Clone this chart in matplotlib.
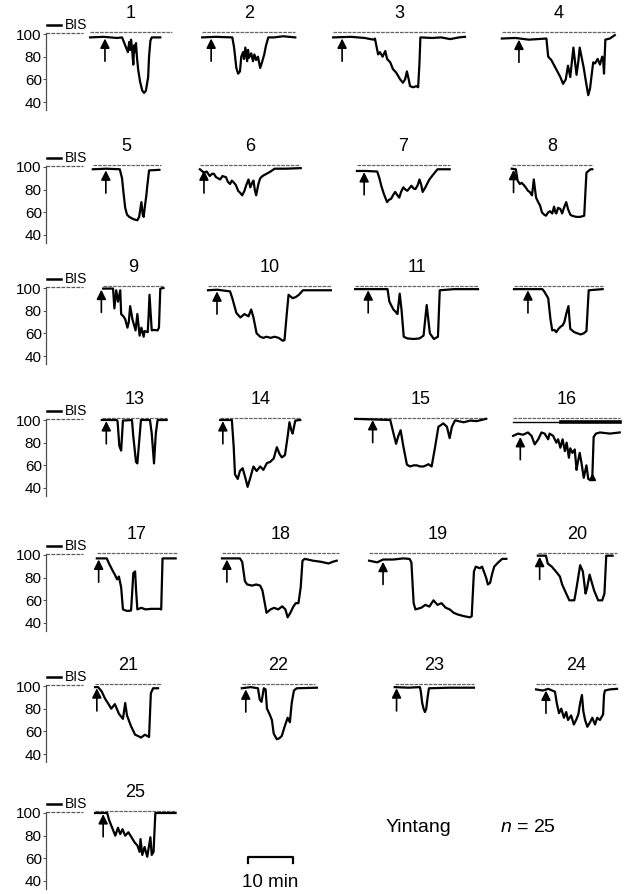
import matplotlib
matplotlib.use("Agg")
import matplotlib.pyplot as plt
import numpy as np

plt.rcParams['font.family'] = ['Liberation Sans', 'DejaVu Sans']
plt.rcParams['mathtext.fontset'] = 'custom'
plt.rcParams['mathtext.it'] = 'Liberation Sans:italic'
plt.rcParams['mathtext.rm'] = 'Liberation Sans'

# ---- data: BIS traces, (minutes from panel start, BIS) ----
trace_01 = [(0, 97), (3, 97.5), (6, 96.5), (7.1, 97), (7.6, 92), (8.0, 88), (8.4, 84), (8.7, 93), (8.9, 86),
            (9.1, 95), (9.3, 88), (9.6, 73), (9.8, 90), (10.0, 84), (10.2, 92), (10.4, 80), (10.7, 68),
            (11.1, 58), (11.6, 50), (12.0, 48), (12.4, 50), (12.9, 62), (13.1, 80), (13.4, 94), (13.7, 97),
            (15.6, 97)]
trace_02 = [(0, 97), (3, 97.5), (6.7, 97), (7.1, 88), (7.6, 70), (8.0, 65), (8.4, 67), (8.7, 80), (9.1, 84),
            (9.3, 78), (9.6, 88), (10.0, 76), (10.2, 86), (10.4, 79), (10.9, 83), (11.3, 76), (11.6, 82),
            (12.0, 77), (12.4, 80), (12.9, 70), (13.3, 75), (13.8, 82), (14.2, 90), (14.7, 97), (16, 97),
            (18, 98), (20.7, 97)]
trace_03 = [(0, 97), (4, 97.5), (7, 96.5), (9.0, 95), (9.3, 96), (9.6, 90), (10.0, 82), (10.4, 84), (11.0, 80),
            (11.6, 85), (12.0, 78), (12.7, 75), (13.3, 69), (14.0, 66), (14.9, 60), (15.5, 57), (16.0, 60),
            (16.4, 67), (16.8, 60), (17.1, 54), (17.8, 53), (18.5, 54), (18.9, 53), (19.2, 75), (19.4, 97),
            (22, 96.5), (24, 97), (26, 95.5), (28, 97), (29.3, 97.5)]
trace_04 = [(0, 96), (3, 96.5), (6, 95), (9.9, 96), (10.3, 80), (11.0, 77), (12.2, 68), (13.0, 62), (13.6, 56),
            (14.2, 60), (14.7, 72), (15.2, 62), (15.9, 88), (16.3, 74), (16.6, 64), (17.0, 76), (17.3, 88),
            (17.8, 78), (18.2, 70), (18.6, 60), (19.2, 46), (19.6, 52), (19.9, 62), (20.3, 75), (20.7, 74),
            (21.3, 78), (21.8, 73), (22.3, 80), (22.5, 78), (22.7, 65), (23.0, 95), (24.0, 96), (25.1, 99)]
trace_05 = [(0, 98), (3, 98.5), (6.0, 98), (6.5, 90), (6.8, 78), (7.2, 64), (7.6, 58), (8.1, 56), (9.0, 54),
            (9.9, 53), (10.3, 56), (10.8, 69), (11.1, 58), (11.3, 56), (11.6, 66), (11.9, 75), (12.1, 83),
            (12.5, 97), (14.8, 97.5)]
trace_06 = [(0, 98), (0.9, 95), (1.5, 96), (2.2, 92), (2.7, 94), (3.1, 94), (3.6, 91), (4.5, 89), (5.0, 92),
            (5.8, 91), (6.2, 87), (6.7, 85), (7.1, 88), (7.6, 86), (8.0, 84), (8.5, 79), (9.0, 77), (9.4, 75),
            (9.9, 79), (10.3, 84), (10.8, 89), (11.2, 82), (11.6, 86), (11.9, 88), (12.2, 80), (12.5, 75),
            (13.0, 85), (13.4, 90), (13.9, 92), (14.8, 94), (15.7, 96), (16.6, 98.5), (19, 98.5), (22.4, 99)]
trace_07 = [(0, 96.5), (2, 96.5), (4.5, 96), (5.0, 90), (5.4, 83.5), (6.0, 76), (6.7, 69), (7.1, 71), (7.6, 72),
            (8.0, 75), (8.5, 78), (9.0, 75), (9.4, 73), (9.8, 78), (10.3, 82), (10.8, 80), (11.2, 79),
            (11.6, 81), (12.1, 83.5), (12.6, 81), (13.0, 80.5), (13.5, 84), (13.9, 89), (14.3, 84), (14.6, 78),
            (15.2, 82), (15.7, 86), (16.1, 89), (17.0, 93.6), (17.9, 98), (20.6, 98)]
trace_08 = [(0, 98.5), (0.9, 98), (1.3, 88), (1.8, 85), (2.2, 86), (2.7, 84), (3.1, 82), (3.6, 79), (4.0, 78),
            (4.5, 75), (4.9, 89), (5.4, 73), (6.0, 68), (6.3, 66), (6.7, 60), (7.2, 58), (7.6, 57), (8.1, 60),
            (8.5, 61), (9.0, 59), (9.4, 65), (9.7, 60), (9.9, 59), (10.3, 64), (10.8, 63), (11.2, 59),
            (11.6, 64), (12.1, 69), (12.5, 63), (13.0, 58), (13.4, 57), (14.3, 56), (15.2, 56), (16.1, 57),
            (16.4, 80), (16.6, 95), (17.5, 98), (17.9, 98)]
trace_09 = [(0, 99.5), (2.2, 99.5), (2.5, 82), (2.9, 98), (3.3, 88), (3.8, 98), (4.0, 77), (4.5, 75), (4.9, 72.5),
            (5.4, 65), (5.7, 70), (6.0, 84), (6.5, 72.5), (7.2, 62.6), (7.6, 77), (8.1, 58), (8.5, 65), (9.0, 57),
            (9.2, 62), (9.9, 61), (10.1, 75), (10.3, 94), (10.6, 75), (10.8, 62.6), (11.2, 63), (12.1, 62.6),
            (12.4, 65), (12.7, 99.4), (13.4, 100)]
trace_10 = [(0, 98), (2, 98.5), (4.9, 97), (5.4, 91), (6.3, 78), (7.2, 74), (8.1, 77), (9.0, 75), (9.6, 81),
            (10.1, 74), (10.8, 60), (11.6, 57), (12.3, 56), (13.0, 57), (13.9, 56), (14.8, 57), (15.7, 56),
            (16.6, 53.5), (17.0, 54), (17.5, 77), (17.9, 94), (18.8, 91), (19.5, 92), (20.2, 94), (21.1, 98),
            (24, 98), (27.3, 98)]
trace_11 = [(0, 99), (4, 99), (7.2, 99), (7.6, 88), (8.5, 81), (9.0, 79), (9.4, 77), (9.9, 95), (10.3, 81),
            (10.8, 57), (11.6, 55.5), (13, 55), (14.3, 55.5), (15.2, 58), (15.9, 85), (16.6, 60), (17.5, 55),
            (18.4, 57), (18.8, 98), (22, 99), (27.3, 99)]
trace_12 = [(0, 99), (3, 99), (6.3, 99), (6.7, 97), (7.6, 91), (8.1, 72.5), (8.5, 62.6), (9.0, 63), (9.4, 61),
            (9.9, 64), (10.4, 66), (10.8, 67), (11.2, 70), (11.6, 77), (12.1, 84), (12.5, 64), (13.4, 61),
            (14.1, 60), (14.8, 59), (15.5, 60), (16.1, 62), (16.6, 98), (19.7, 99)]
trace_13 = [(0, 100), (3.3, 100), (3.5, 99), (3.9, 77), (4.3, 73), (4.7, 99.5), (6.7, 100), (7.0, 85.5),
            (7.6, 63), (7.9, 61.7), (8.4, 85.5), (8.7, 100), (10.7, 100), (11.1, 88), (11.6, 61.7), (12.0, 88),
            (12.4, 100), (14.4, 100)]
trace_14 = [(0, 100), (2.6, 100), (3.0, 77), (3.3, 52), (3.9, 48), (4.4, 55), (5.0, 57.5), (5.6, 49), (6.1, 41),
            (6.7, 49), (7.4, 59), (8.1, 55), (8.9, 59), (9.6, 56), (10.4, 62), (11.1, 63), (11.9, 66),
            (12.6, 76), (13.2, 70), (13.7, 67), (14.4, 69), (15.0, 85.5), (15.4, 98), (15.8, 91), (16.1, 88),
            (16.7, 99.5), (17.8, 100)]
trace_15 = [(0, 101), (4, 100.5), (7.8, 100), (8.5, 88.5), (9.1, 79), (9.6, 86), (10.1, 91), (10.7, 77),
            (11.5, 60.6), (12.2, 59), (13.0, 60), (13.7, 60), (14.4, 59), (15.2, 59), (15.8, 60), (16.3, 61),
            (17.0, 59), (17.8, 77), (18.5, 94), (19.6, 97), (20.4, 94), (21.0, 84), (21.5, 94), (22.2, 99.7),
            (24.1, 98), (25.6, 99.5), (27.0, 99), (29.1, 101)]
trace_16 = [(0, 86), (1.1, 88), (2.2, 87), (3.3, 89), (4.1, 86), (4.8, 78.5), (5.6, 83), (6.3, 89), (7.0, 88),
            (7.8, 83), (8.1, 88), (8.9, 86), (9.6, 80), (10.0, 83), (10.5, 75.5), (11.0, 83), (11.5, 72.6),
            (11.9, 80), (12.4, 66.7), (12.7, 75), (13.2, 71), (13.7, 74), (14.1, 56), (14.4, 63), (14.8, 71),
            (15.2, 62), (15.7, 49), (16.3, 60), (16.7, 48), (17.3, 47), (17.6, 49), (17.9, 85), (18.4, 88),
            (19.3, 89), (21.5, 88), (23.7, 89)]
trace_17 = [(0, 97), (2.2, 97), (2.7, 92.5), (3.6, 85.5), (4.0, 82.7), (4.5, 78.5), (4.9, 81), (5.4, 71.5),
            (5.8, 52), (6.7, 50.6), (7.6, 51), (7.9, 70), (8.1, 84), (8.5, 85.5), (8.7, 70), (9.0, 52),
            (9.9, 53.4), (10.8, 52), (12.1, 52.5), (13.9, 52.5), (14.3, 52), (14.6, 97), (17.5, 97)]
trace_18 = [(0, 97), (4.0, 97), (4.5, 94), (5.1, 77), (5.6, 74), (6.7, 73), (7.6, 74), (8.5, 73), (9.0, 68.7),
            (9.4, 60), (9.9, 49), (10.8, 52), (11.6, 53.4), (12.5, 52), (13.4, 54.7), (14.1, 52), (14.6, 45),
            (15.2, 49), (15.9, 54.7), (16.4, 57.5), (17.0, 57.5), (17.5, 71.5), (17.9, 95), (18.4, 96.6),
            (20.2, 95), (22.0, 94), (23.7, 92.5), (24.6, 94), (25.5, 95)]
trace_19 = [(0, 95), (1.8, 93.5), (3.1, 96), (5.4, 96), (7.6, 97), (9.0, 96.5), (9.4, 93.5), (9.9, 57.5),
            (10.3, 52), (11.6, 53.5), (12.5, 56), (13.4, 54.5), (14.3, 60), (15.2, 56), (16.1, 57.5),
            (17.0, 53.5), (17.9, 52), (18.8, 49), (19.7, 47.5), (21.1, 46), (22.4, 45), (22.8, 46), (23.3, 85.5),
            (23.7, 89.7), (24.6, 88.3), (25.1, 89.7), (25.5, 85.5), (26.0, 80), (26.4, 74), (26.9, 75.5),
            (27.3, 82.7), (27.8, 89.7), (28.7, 93.5), (29.6, 96.6), (30.5, 96.6)]
trace_20 = [(0, 99.4), (1.8, 99.4), (2.2, 92.5), (3.1, 89.7), (4.0, 85.5), (4.9, 81), (5.4, 74), (6.3, 66),
            (7.0, 60), (8.1, 60), (8.5, 68.7), (9.0, 81), (9.4, 91), (10.0, 85.5), (10.6, 66), (10.9, 70),
            (11.5, 82.7), (11.9, 77), (12.5, 68.7), (13.4, 60), (14.3, 60), (14.8, 66), (15.2, 99.4), (16.6, 99.4)]
trace_21 = [(0, 99), (0.7, 99), (1.5, 95), (2.2, 89), (3.0, 84), (3.6, 80), (4.4, 84), (5.3, 75.5), (6.2, 71),
            (6.7, 85), (7.1, 74), (8.0, 64.5), (8.9, 57), (9.5, 56), (10.2, 54.5), (11.1, 57), (12.0, 55),
            (12.4, 93.6), (12.9, 98), (14.0, 98)]
trace_22 = [(0, 98), (2, 99), (3.6, 98), (4.0, 88), (4.4, 86), (4.9, 98), (5.3, 97), (5.6, 80), (6.2, 75),
            (6.7, 70), (7.1, 58), (7.8, 53), (8.4, 54), (8.9, 56), (9.6, 65), (10.2, 72), (10.7, 68), (11.1, 85),
            (11.6, 96), (12.2, 98), (16.7, 98.5)]
trace_23 = [(0, 99), (3, 98.5), (5.6, 99), (5.8, 95), (6.1, 85), (6.4, 80), (6.7, 77), (7.0, 80), (7.3, 90),
            (7.6, 98), (12, 98.5), (17.6, 98.5)]
trace_24 = [(0, 97), (1.5, 96), (2.7, 97.5), (3.6, 96), (4.2, 95), (4.6, 85), (5.1, 76), (5.6, 80), (6.2, 72),
            (6.7, 77), (7.1, 70), (7.8, 74), (8.4, 66), (8.9, 70), (9.4, 75), (9.8, 85), (10.2, 92), (10.5, 78),
            (10.9, 70), (11.4, 64), (12.0, 68), (12.5, 72), (13.1, 66), (13.6, 72), (14.2, 70), (14.9, 75),
            (15.1, 92), (15.3, 96), (16.4, 97), (18.0, 97.5)]
trace_25 = [(0, 100), (2.7, 100), (3.1, 94), (3.9, 86), (4.5, 80), (5.1, 87), (5.6, 81.4), (6.1, 85.7), (6.7, 80),
            (7.4, 83), (8.1, 78.6), (8.8, 74), (9.4, 71.4), (9.9, 65.7), (10.1, 77), (10.5, 63), (11.0, 70),
            (11.6, 61.4), (12.3, 78.6), (12.6, 63), (13.0, 65.7), (13.4, 100), (17.9, 100)]

traces = [trace_01, trace_02, trace_03, trace_04, trace_05, trace_06, trace_07, trace_08, trace_09,
          trace_10, trace_11, trace_12, trace_13, trace_14, trace_15, trace_16, trace_17, trace_18,
          trace_19, trace_20, trace_21, trace_22, trace_23, trace_24, trace_25]

panel_labels = ['1', '2', '3', '4', '5', '6', '7', '8', '9', '10', '11', '', '13', '14', '15', '16',
                '17', '18', '19', '20', '21', '22', '23', '24', '25']
# onset of each panel within its row (min from the BIS axis) and length of its reference line (min)
panel_start = [9.8, 34.7, 63.8, 101.3, 10.4, 34.2, 69.1, 103.5, 12.7, 36.0, 68.7, 104.0,
               12.4, 38.7, 68.7, 103.8, 11.3, 39.1, 71.8, 109.3, 10.9, 43.5, 77.5, 108.9, 10.9]
panel_length = [18.2, 20.7, 29.3, 25.1, 15.1, 22.2, 20.7, 18.0, 13.3, 27.3, 27.3, 19.8,
                14.4, 17.8, 29.3, 23.8, 17.8, 26.0, 30.4, 17.6, 14.7, 16.2, 17.6, 18.0, 17.9]
# arrow (needle onset) in min after panel start
arrow_at = [3.3, 2.0, 2.0, 3.8, 2.9, 0.9, 1.6, 0.4, -0.4, 2.0, 2.9, 3.1,
            1.0, 0.6, 3.9, 1.6, 0.4, 1.1, 3.1, 0.4, 0.4, 0.9, 0.4, 2.2, 1.8]

y_ticks = [40, 60, 80, 100]

# ---- layout ----
W, H = 626, 894
SPINE_X = 46
PX_PER_MIN = 4.5
PX_PER_BIS = 68 / 60
row_y100 = [34, 167, 288, 420, 555, 686, 813]
YLO, YHI = 33, 101

fig = plt.figure(figsize=(W / 100, H / 100), dpi=100)

axes = []
for y100 in row_y100:
    top = y100 - (YHI - 100) * PX_PER_BIS
    bot = y100 + (100 - YLO) * PX_PER_BIS
    ax = fig.add_axes([SPINE_X / W, 1 - bot / H, (W - SPINE_X) / W, (bot - top) / H])
    ax.set_xlim(0, (W - SPINE_X) / PX_PER_MIN)
    ax.set_ylim(YLO, YHI)
    for s in ['top', 'right', 'bottom']:
        ax.spines[s].set_visible(False)
    ax.spines['left'].set_color('0.3')
    ax.spines['left'].set_linewidth(0.9)
    ax.spines['left'].set_linestyle((0, (3, 1)))
    ax.set_xticks([])
    ax.set_yticks(y_ticks)
    ax.tick_params(axis='y', length=2, width=0.7, pad=1, labelsize=11, color='0.3')
    ax.patch.set_visible(False)
    # top baseline + legend
    ax.plot([0, 8.2], [YHI, YHI], color='0.35', lw=0.9, ls=(0, (3, 1)), clip_on=False)
    ax.plot([0.3, 3.4], [108, 108], color='k', lw=1.8, clip_on=False)
    ax.text(4.3, 108, 'BIS', va='center', ha='left', fontsize=10)
    axes.append(ax)

for i, tr in enumerate(traces):
    ax = axes[i // 4]
    t = np.array([p[0] for p in tr])
    b = np.array([p[1] for p in tr])
    s = panel_start[i]
    L = panel_length[i]
    ax.plot([s, s + L], [102, 102], color='0.4', lw=0.9, ls=(0, (3, 0.8)), clip_on=False)
    if panel_labels[i] == '16':
        ax.plot([s, s + L * 0.45], [98, 98], color='k', lw=1.0, clip_on=False)
        ax.plot([s + L * 0.45, s + L], [98, 98], color='k', lw=2.6, clip_on=False)
        ax.plot(s + 17.6, 50, marker='^', color='k', ms=5, clip_on=False)
    ax.plot(s + t, b, color='k', lw=1.6, clip_on=False)
    tip = b[0] - 1
    ax.annotate('', xy=(s + arrow_at[i], tip), xytext=(s + arrow_at[i], tip - 20),
                arrowprops=dict(arrowstyle='-|>', color='k', lw=1.2, mutation_scale=14,
                                shrinkA=0, shrinkB=0), annotation_clip=False)
    if panel_labels[i]:
        ax.text(s + L / 2, 118, panel_labels[i], ha='center', va='center', fontsize=13)

# ---- bottom annotations ----
ax = axes[-1]
x0 = (248 - SPINE_X) / PX_PER_MIN
ax.plot([x0, x0, x0 + 10, x0 + 10], [56, 61, 61, 56], color='k', lw=1.6, clip_on=False)
ax.text(x0 + 5, 39, '10 min', ha='center', va='center', fontsize=13.5)
ax.text((386 - SPINE_X) / PX_PER_MIN, 87, 'Yintang', ha='left', va='center', fontsize=14)
ax.text((500 - SPINE_X) / PX_PER_MIN, 87, r'$n$ = 25', ha='left', va='center', fontsize=14)

fig.savefig('out.png', dpi=100)
